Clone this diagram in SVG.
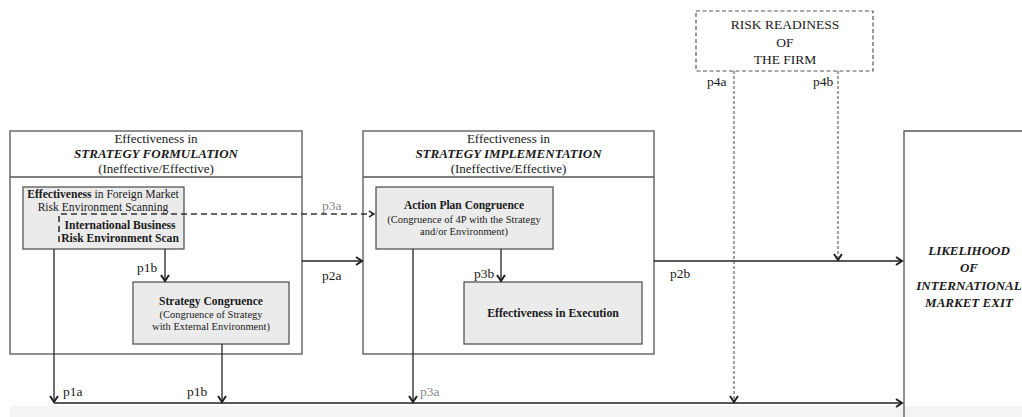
<svg xmlns="http://www.w3.org/2000/svg" width="1022" height="417" viewBox="0 0 1022 417">
<defs>
<marker id="ah" markerUnits="userSpaceOnUse" markerWidth="10" markerHeight="10" refX="6" refY="4" orient="auto" overflow="visible">
<path d="M0,0 L6,4 L0,8" fill="none" stroke="#222" stroke-width="2"/>
</marker>
<marker id="ahs" markerUnits="userSpaceOnUse" markerWidth="8" markerHeight="8" refX="5" refY="3" orient="auto" overflow="visible">
<path d="M0,0 L5,3 L0,6" fill="none" stroke="#333" stroke-width="1.5"/>
</marker>
</defs>
<style>
text{font-family:"Liberation Serif","Times New Roman",serif;fill:#1a1a1a;text-anchor:middle}
.frame{fill:#fff;stroke:#555;stroke-width:1.3}
.inner{fill:#ebebeb;stroke:#555;stroke-width:1.3}
.hd{font-size:13px}
.hb{font-size:13px;font-weight:bold;font-style:italic}
.b{font-weight:bold}
.lbl{font-size:13.5px;text-anchor:start}
.gray{fill:#888}
.conn{fill:none;stroke:#222;stroke-width:1.3}
.dash1{fill:none;stroke:#333;stroke-width:1.6;stroke-dasharray:6,4}
.dash2{fill:none;stroke:#444;stroke-width:1;stroke-dasharray:3,2}
</style>
<rect x="10" y="406" width="1012" height="11" fill="#f4f4f4"/>

<g id="formulation">
<rect class="frame" x="10" y="131" width="292" height="223"/>
<line x1="10" y1="177" x2="302" y2="177" stroke="#555" stroke-width="1.3"/>
<text class="hd" x="156" y="143">Effectiveness in</text>
<text class="hb" x="156" y="157.5">STRATEGY FORMULATION</text>
<text class="hd" x="156" y="173">(Ineffective/Effective)</text>
</g>

<g id="scanning">
<rect class="inner" x="23" y="187" width="161" height="62"/>
<text x="103" y="198" font-size="11.6"><tspan class="b">Effectiveness</tspan> in Foreign Market</text>
<text x="103" y="211" font-size="11.6">Risk Environment Scanning</text>
<text class="b" x="120" y="229" font-size="11.6">International Business</text>
<text class="b" x="120" y="242" font-size="11.6">Risk Environment Scan</text>
</g>

<g id="strategy-congruence">
<rect class="inner" x="133" y="282" width="156" height="62"/>
<text class="b" x="211" y="305" font-size="11.5">Strategy Congruence</text>
<text x="211" y="317.5" font-size="10.5">(Congruence of Strategy</text>
<text x="211" y="329.5" font-size="10.5">with External Environment)</text>
</g>

<g id="implementation">
<rect class="frame" x="363" y="131" width="291" height="223"/>
<line x1="363" y1="177" x2="654" y2="177" stroke="#555" stroke-width="1.3"/>
<text class="hd" x="508.5" y="143">Effectiveness in</text>
<text class="hb" x="508.5" y="157.5">STRATEGY IMPLEMENTATION</text>
<text class="hd" x="508.5" y="173">(Ineffective/Effective)</text>
</g>

<g id="action-plan">
<rect class="inner" x="376" y="187" width="177" height="62"/>
<text class="b" x="464" y="209" font-size="11.5">Action Plan Congruence</text>
<text x="464" y="222.5" font-size="10.5">(Congruence of 4P with the Strategy</text>
<text x="464" y="234.5" font-size="10.5">and/or Environment)</text>
</g>

<g id="execution">
<rect class="inner" x="464" y="282" width="178" height="62"/>
<text class="b" x="553" y="317" font-size="11.8">Effectiveness in Execution</text>
</g>

<g id="risk-readiness">
<rect x="696" y="11" width="177" height="60" fill="#fff" stroke="#555" stroke-width="1.2" stroke-dasharray="4,2.5"/>
<text x="785" y="29" font-size="13.5">RISK READINESS</text>
<text x="785" y="46.5" font-size="13.5">OF</text>
<text x="785" y="64" font-size="13.5">THE FIRM</text>
</g>

<g id="market-exit">
<path d="M904,417 V131 H1022" fill="none" stroke="#555" stroke-width="1.3"/>
<text class="hb" x="969" y="255" font-size="13.5">LIKELIHOOD</text>
<text class="hb" x="969" y="272" font-size="13.5">OF</text>
<text class="hb" x="969" y="290" font-size="13.5">INTERNATIONAL</text>
<text class="hb" x="969" y="307" font-size="13.5">MARKET EXIT</text>
</g>

<g id="connectors">
<path class="conn" d="M54,249 V402" marker-end="url(#ah)"/>
<path class="conn" d="M54,403 H902" marker-end="url(#ah)"/>
<path class="conn" d="M165,249 V281" marker-end="url(#ah)"/>
<path class="conn" d="M222,344 V402" marker-end="url(#ah)"/>
<path class="conn" d="M302,261 H362" marker-end="url(#ah)"/>
<path class="dash1" d="M59,242 V214 H374" marker-end="url(#ahs)"/>
<path class="conn" d="M413,249 V402" marker-end="url(#ah)"/>
<path class="conn" d="M501,249 V281" marker-end="url(#ah)"/>
<path class="conn" d="M654,261 H902" marker-end="url(#ah)"/>
<path class="dash2" d="M734,71 V402" marker-end="url(#ah)"/>
<path class="dash2" d="M838,71 V260" marker-end="url(#ah)"/>
<text class="lbl" x="137" y="271.5">p1b</text>
<text class="lbl" x="63" y="396">p1a</text>
<text class="lbl" x="187" y="396">p1b</text>
<text class="lbl" x="322" y="279.5">p2a</text>
<text class="lbl gray" x="322" y="210">p3a</text>
<text class="lbl" x="474" y="278">p3b</text>
<text class="lbl gray" x="420" y="396">p3a</text>
<text class="lbl" x="670" y="278">p2b</text>
<text class="lbl" x="707" y="86">p4a</text>
<text class="lbl" x="813" y="86">p4b</text>
</g>
</svg>
